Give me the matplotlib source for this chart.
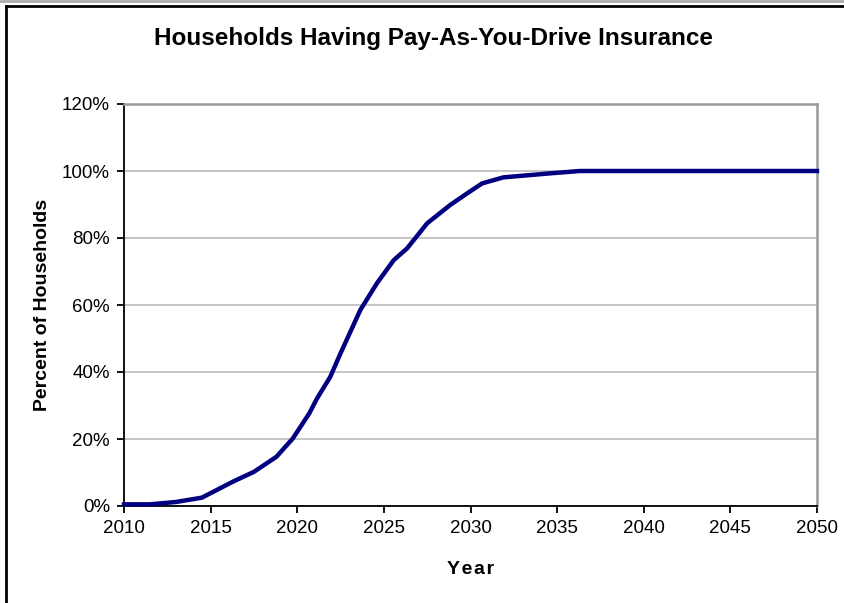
import matplotlib
matplotlib.use("Agg")
import matplotlib.pyplot as plt
from matplotlib.lines import Line2D

plt.rcParams['font.family'] = ['Liberation Sans', 'DejaVu Sans']

years = [2010, 2011.5, 2013, 2014.5, 2016.3, 2017.5, 2018.8, 2019.75, 2020.7,
         2021.14, 2021.9, 2022.5, 2023.64, 2024.6, 2025.57, 2026.34, 2027.5,
         2028.84, 2029.8, 2030.67, 2031.9, 2034.6, 2036.3, 2040, 2045, 2050]
share = [0.5, 0.5, 1.2, 2.5, 7.3, 10.2, 14.7, 20.2, 27.7,
         32.1, 38.5, 45.6, 58.5, 66.5, 73.4, 76.9, 84.4,
         89.9, 93.3, 96.3, 98.1, 99.3, 100, 100, 100, 100]
xticks = [2010, 2015, 2020, 2025, 2030, 2035, 2040, 2045, 2050]
yticks = [0, 20, 40, 60, 80, 100, 120]
ylabels = [f"{v}%" for v in yticks]

fig = plt.figure(figsize=(8.45, 6.03), dpi=100)
ax = fig.add_axes([124/845, 1-506/603, (817-124)/845, (506-104)/603])

ax.plot(years, share, color='#000080', lw=3.2, solid_joinstyle='round', clip_on=False, zorder=3)

ax.set_xlim(2010, 2050)
ax.set_ylim(0, 120)
ax.set_xticks(xticks)
ax.set_yticks(yticks)
ax.set_yticklabels(ylabels)
ax.yaxis.grid(True, color='#c0c0c0', lw=1.3)
ax.set_axisbelow(True)
ax.tick_params(axis='both', direction='out', length=5, width=1.3, color='black', labelsize=13.5, pad=5)

for s in ['left', 'bottom']:
    ax.spines[s].set_color('black')
    ax.spines[s].set_linewidth(1.3)
for s in ['top', 'right']:
    ax.spines[s].set_color('#999999')
    ax.spines[s].set_linewidth(1.8)

ax.set_xlabel('Y\u200ae\u200aa\u200ar', fontsize=14, fontweight='bold', labelpad=17,
              family=['Liberation Sans', 'DejaVu Sans'])
ax.set_ylabel('Percent of Households', fontsize=14, fontweight='bold', labelpad=8)
fig.text(433/845, 1-38/603, 'Households Having Pay-As-You-Drive Insurance',
         ha='center', va='center', fontsize=17.5, fontweight='bold')

# outer frame
fig.add_artist(Line2D([0, 1], [1-1/603, 1-1/603], transform=fig.transFigure, color='#aaaaaa', lw=2))
fig.add_artist(Line2D([6.5/845, 1], [1-5.5/603, 1-5.5/603], transform=fig.transFigure, color='black', lw=2))
fig.add_artist(Line2D([6.5/845, 6.5/845], [0, 1-5.5/603], transform=fig.transFigure, color='black', lw=2))

fig.savefig('out.png', dpi=100)
